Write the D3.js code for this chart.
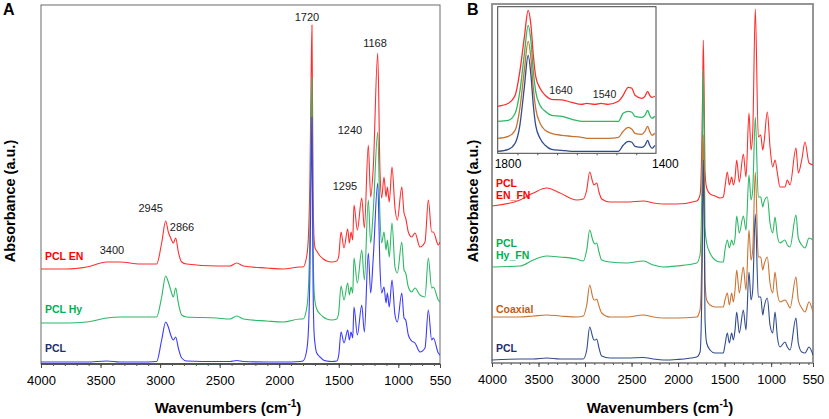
<!DOCTYPE html>
<html>
<head>
<meta charset="utf-8">
<script src="https://cdn.jsdelivr.net/npm/d3@7/dist/d3.min.js"></script>
<style>
body { margin: 0; background: #fff; }
svg { display: block; }
text { font-family: "Liberation Sans", Arial, sans-serif; }
</style>
</head>
<body>
<div id="chart"></div>
<script>
"use strict";
var w = 829;//page width
var h = 419;//page height

// ---- panel A : wavenumber grid (cm-1) and stacked absorbance of each trace
var wnA = [4000, 3784, 3616, 3448, 3337, 3169, 3029, 2987, 2953, 2931, 2911, 2889, 2869, 2847, 2819, 2777, 2525, 2413, 2357, 2301, 2105, 1966, 1825,
    1800, 1770, 1755, 1742, 1733, 1725, 1716, 1708, 1699, 1685, 1657, 1630, 1601, 1559, 1517, 1500,
    1481, 1456, 1425, 1411, 1397, 1383, 1372, 1344, 1307, 1285, 1252, 1232, 1210, 1173, 1154, 1140, 1120, 1103, 1092, 1076,
    1053, 1028, 1008, 971, 952, 938, 916, 888, 860, 818, 776, 748, 720, 706, 664, 650];
var pclEnA = [0.95, 0.95, 0.97, 1.02, 1.02, 1.00, 1.00, 1.21, 1.43, 1.32, 1.26, 1.21, 1.26, 1.12, 1.02, 1.00, 0.98, 0.98, 1.01, 0.98, 0.96, 0.95, 0.97,
    0.97, 1.07, 1.27, 1.87, 2.77, 3.39, 1.77, 1.27, 1.16, 1.13, 1.08, 1.05, 1.03, 1.02, 1.03, 1.08,
    1.32, 1.16, 1.35, 1.21, 1.32, 1.24, 1.59, 1.34, 1.66, 1.36, 2.19, 1.67, 1.97, 3.11, 1.94, 1.66, 1.87, 1.67, 1.77, 1.62,
    1.97, 1.56, 1.44, 1.77, 1.51, 1.46, 1.32, 1.27, 1.31, 1.17, 1.22, 1.64, 1.32, 1.32, 1.19, 1.22];
var pclHyA = [0.41, 0.41, 0.42, 0.46, 0.47, 0.47, 0.47, 0.67, 0.88, 0.82, 0.74, 0.67, 0.76, 0.61, 0.49, 0.47, 0.46, 0.45, 0.48, 0.45, 0.43, 0.42, 0.45,
    0.45, 0.55, 0.75, 1.35, 2.25, 2.86, 1.25, 0.75, 0.62, 0.55, 0.50, 0.47, 0.45, 0.44, 0.45, 0.52,
    0.78, 0.64, 0.81, 0.69, 0.77, 0.71, 1.06, 0.81, 1.14, 0.84, 1.64, 1.21, 1.54, 2.32, 1.47, 1.21, 1.32, 1.14, 1.24, 1.07,
    1.41, 0.97, 0.91, 1.22, 0.94, 0.91, 0.77, 0.72, 0.76, 0.69, 0.67, 1.06, 0.76, 0.77, 0.64, 0.62];
var pclA = [0.02, 0.02, 0.02, 0.03, 0.02, 0.02, 0.025, 0.24, 0.42, 0.37, 0.29, 0.24, 0.27, 0.16, 0.06, 0.03, 0.025, 0.025, 0.035, 0.025, 0.02, 0.02, 0.025,
    0.03, 0.13, 0.33, 0.93, 1.83, 2.47, 0.83, 0.33, 0.20, 0.11, 0.07, 0.04, 0.03, 0.025, 0.03, 0.09,
    0.32, 0.21, 0.34, 0.24, 0.32, 0.26, 0.57, 0.29, 0.59, 0.32, 1.11, 0.71, 1.07, 1.81, 0.97, 0.71, 0.77, 0.61, 0.71, 0.57,
    0.84, 0.49, 0.42, 0.71, 0.46, 0.44, 0.29, 0.23, 0.21, 0.12, 0.16, 0.54, 0.24, 0.26, 0.11, 0.09];

// ---- panel B
var wnB = [4000, 3699, 3556, 3412, 3269, 3090, 3019, 2982, 2950, 2918, 2904, 2889, 2875, 2850, 2821, 2732, 2552, 2374, 2266, 2159, 2015,
    1800, 1764, 1746, 1736, 1729, 1718, 1711, 1693, 1657, 1603, 1550, 1514,
    1496, 1471, 1449, 1424, 1406, 1388, 1370, 1342, 1299, 1270, 1238, 1216, 1198, 1170, 1138, 1112, 1090, 1077, 1041, 1012,
    983, 958, 933, 905, 851, 826, 797, 733, 708, 671, 636, 593, 550];
var enFnB = [1.57, 1.63, 1.70, 1.75, 1.70, 1.63, 1.64, 1.73, 1.91, 1.81, 1.78, 1.79, 1.80, 1.71, 1.64, 1.61, 1.61, 1.62, 1.60, 1.59, 1.59,
    1.62, 1.68, 2.13, 2.73, 3.23, 2.53, 1.93, 1.75, 1.69, 1.67, 1.65, 1.66,
    1.76, 1.91, 1.78, 1.86, 1.78, 1.85, 2.03, 1.81, 2.09, 1.86, 2.50, 2.13, 2.30, 3.54, 2.26, 2.28, 2.13, 2.20, 2.51, 2.16,
    1.96, 2.03, 1.90, 1.76, 1.76, 1.83, 1.78, 2.15, 1.90, 2.03, 2.21, 2.00, 1.98];
var hyFnB = [0.96, 0.97, 1.03, 1.07, 1.06, 1.04, 1.02, 1.13, 1.33, 1.23, 1.20, 1.19, 1.20, 1.11, 1.03, 1.01, 1.00, 1.02, 0.98, 0.96, 0.97,
    1.00, 1.08, 1.63, 2.33, 2.93, 2.13, 1.36, 1.20, 1.10, 1.03, 1.01, 1.01,
    1.13, 1.23, 1.15, 1.23, 1.18, 1.25, 1.47, 1.30, 1.47, 1.33, 1.88, 1.63, 1.73, 2.46, 1.66, 1.66, 1.56, 1.61, 1.66, 1.40,
    1.30, 1.46, 1.27, 1.20, 1.23, 1.18, 1.16, 1.48, 1.25, 1.18, 1.15, 1.25, 1.23];
var coaxB = [0.46, 0.46, 0.47, 0.48, 0.47, 0.46, 0.47, 0.58, 0.78, 0.66, 0.63, 0.63, 0.64, 0.57, 0.50, 0.46, 0.46, 0.48, 0.46, 0.45, 0.45,
    0.46, 0.53, 1.03, 1.73, 2.28, 1.53, 0.83, 0.63, 0.58, 0.56, 0.56, 0.56,
    0.63, 0.70, 0.58, 0.70, 0.61, 0.73, 0.93, 0.70, 0.96, 0.73, 1.33, 1.03, 1.13, 1.91, 1.06, 1.06, 0.93, 0.98, 1.06, 0.80,
    0.70, 0.91, 0.70, 0.61, 0.63, 0.60, 0.55, 0.86, 0.63, 0.55, 0.51, 0.61, 0.51];
var pclB = [0.03, 0.04, 0.04, 0.05, 0.04, 0.04, 0.04, 0.13, 0.36, 0.26, 0.23, 0.23, 0.24, 0.15, 0.07, 0.05, 0.05, 0.055, 0.04, 0.03, 0.035,
    0.06, 0.11, 0.63, 1.43, 2.03, 1.33, 0.45, 0.20, 0.13, 0.10, 0.10, 0.10,
    0.18, 0.30, 0.20, 0.30, 0.23, 0.33, 0.51, 0.30, 0.53, 0.33, 0.91, 0.63, 0.73, 1.49, 0.66, 0.66, 0.48, 0.55, 0.65, 0.38,
    0.30, 0.51, 0.26, 0.16, 0.21, 0.16, 0.13, 0.45, 0.20, 0.11, 0.10, 0.16, 0.08];

// ---- inset of panel B, 1800-1400 cm-1
var wnInset = [1800, 1773, 1756, 1744, 1733, 1723, 1716, 1710, 1704, 1693, 1680, 1664, 1638, 1613, 1588,
    1575, 1554, 1539, 1521, 1495, 1483, 1470, 1461, 1453, 1436, 1428, 1421, 1416, 1410, 1403];
var enFnInset = [0.47, 0.50, 0.58, 0.82, 1.15, 1.43, 1.28, 0.98, 0.77, 0.65, 0.58, 0.54, 0.535, 0.51, 0.49,
    0.50, 0.49, 0.50, 0.49, 0.52, 0.58, 0.66, 0.65, 0.58, 0.55, 0.57, 0.62, 0.58, 0.56, 0.57];
var hyFnInset = [0.32, 0.33, 0.40, 0.62, 0.98, 1.28, 1.12, 0.82, 0.62, 0.48, 0.42, 0.38, 0.37, 0.34, 0.32,
    0.32, 0.32, 0.32, 0.32, 0.32, 0.40, 0.42, 0.41, 0.37, 0.36, 0.38, 0.43, 0.38, 0.35, 0.37];
var coaxInset = [0.15, 0.17, 0.23, 0.45, 0.82, 1.12, 0.95, 0.65, 0.45, 0.30, 0.23, 0.20, 0.18, 0.17, 0.16,
    0.15, 0.15, 0.15, 0.15, 0.16, 0.22, 0.26, 0.24, 0.20, 0.19, 0.22, 0.27, 0.22, 0.18, 0.20];
var pclInset = [0.02, 0.04, 0.10, 0.28, 0.65, 0.98, 0.78, 0.48, 0.28, 0.15, 0.08, 0.04, 0.03, 0.02, 0.02,
    0.02, 0.02, 0.02, 0.02, 0.02, 0.08, 0.12, 0.11, 0.07, 0.06, 0.08, 0.13, 0.08, 0.05, 0.08];

// ---- axis ticks and labels
var ticksA = [4000, 3500, 3000, 2500, 2000, 1500, 1000, 650];
var ticksB = [4000, 3500, 3000, 2500, 2000, 1500, 1000, 550];
var tickLabels = ["4000", "3500", "3000", "2500", "2000", "1500", "1000", "550"];
var insetLabels = ["1800", "1400"];
var peakLabelsA = ["1720", "1168", "1240", "1295", "2945", "2866", "3400"];
var peakLabelsInset = ["1640", "1540"];

//it will register functions that will respond to browser events
function init() {
    draw();
};
window.onload = init;

function pairs(wn, vals) {
    return wn.map(function(d, i){ return [d, vals[i]]; });
}

function clip(svg, id, x, y) {
    svg.append("defs").append("clipPath").attr("id", id)
        .append("rect")
        .attr("x", x.range()[0]).attr("y", y.range()[1])
        .attr("width", x.range()[1] - x.range()[0])
        .attr("height", y.range()[0] - y.range()[1]);
}

function traces(g, x, y, wn, list, colors, clipId, width) {
    var line = d3.line()
        .defined(function(d){ return d[1] != null; })
        .curve(d3.curveMonotoneX)// smooth the bands a little, no overshoot
        .x(function(d){ return x(d[0]); })
        .y(function(d){ return y(d[1]); });
    g.append("g").attr("clip-path", "url(#" + clipId + ")")
        .selectAll("path")
        .data(list)
        .enter()
        .append("path")
        .attr("d", function(d){ return line(pairs(wn, d)); })
        .attr("fill", "none")
        .attr("stroke", function(d, i){ return colors[i]; })
        .attr("stroke-width", width)
        .attr("stroke-linejoin", "round");
}

function bottomAxis(g, x, y, ticks, labels, minor) {
    var y0 = y.range()[0];
    var mi = g.append("g").attr("transform", "translate(0," + y0 + ")")
        .call(d3.axisBottom(x).tickValues(minor).tickSize(2).tickFormat(""));
    mi.select(".domain").remove();
    mi.selectAll("line").attr("stroke", "#555");
    var ax = g.append("g").attr("transform", "translate(0," + y0 + ")")
        .call(d3.axisBottom(x).tickValues(ticks).tickSize(4).tickPadding(8)
            .tickFormat(function(d, i){ return labels[i]; }));
    ax.select(".domain").remove();
    ax.selectAll("line").attr("stroke", "#444");
    ax.attr("font-family", "Liberation Sans, Arial, sans-serif").attr("font-size", 13);
    ax.selectAll("text").attr("fill", "#000");
}

function xTitle(g, cx) {
    var t = g.append("text")
        .attr("x", cx).attr("y", 413)
        .attr("text-anchor", "middle")
        .attr("font-weight", "bold").attr("font-size", 15)
        .text("Wavenumbers (cm");
    t.append("tspan").attr("font-size", 10).attr("dy", -6).text("-1");
    t.append("tspan").attr("dy", 6).text(")");
}

function yTitle(g, bx) {
    g.append("text")
        .attr("transform", "translate(" + bx + ",201) rotate(-90)")
        .attr("text-anchor", "middle")
        .attr("font-weight", "bold").attr("font-size", 14.5)
        .text("Absorbance (a.u.)");
}

function seriesLabel(g, x, y, wn, val, lines, color) {
    g.append("text")
        .attr("x", x(wn) + 4).attr("y", y(val))
        .attr("font-weight", "bold").attr("font-size", 10.5)
        .attr("fill", color)
        .selectAll("tspan")
        .data(lines)
        .enter()
        .append("tspan")
        .attr("x", x(wn) + 4)
        .attr("dy", function(d, i){ return i == 0 ? 0 : 11.5; })
        .text(function(d){ return d; });
}

function peakLabels(g, x, y, labels, anchors, size) {
    g.selectAll(null)
        .data(labels)
        .enter()
        .append("text")
        .attr("x", function(d, i){ return x(anchors[i][0]); })
        .attr("y", function(d, i){ return y(anchors[i][1]); })
        .attr("text-anchor", "middle")
        .attr("font-family", "Open Sans, sans-serif")
        .attr("font-size", size)
        .attr("fill", "#1a1a1a")
        .text(function(d){ return d; });
}

function draw() {
    var svg = d3.select("#chart")
        .append("svg")
        .attr("width", w)
        .attr("height", h);

    // ================= panel A
    var xA = d3.scaleLinear().domain([4000, 650]).range([41, 440]);
    var yA = d3.scaleLinear().domain([0, 3.59]).range([364, 5]);
    clip(svg, "clipA", xA, yA);
    var gA = svg.append("g");

    gA.append("rect")
        .attr("x", 41).attr("y", 5).attr("width", 399).attr("height", 359)
        .attr("fill", "none").attr("stroke", "#6a6a6a").attr("stroke-width", 1);
    traces(gA, xA, yA, wnA, [pclEnA, pclHyA, pclA], ["#ff2e2e", "#2cb865", "#3a3aff"], "clipA", 1.1);
    gA.append("line").attr("x1", 41).attr("x2", 440).attr("y1", 364).attr("y2", 364)
        .attr("stroke", "#333").attr("stroke-width", 1.3);
    bottomAxis(gA, xA, yA, ticksA, tickLabels, d3.range(4000, 649, -100));

    peakLabels(gA, xA, yA, peakLabelsA,
        [[1767, 3.43], [1196, 3.17], [1406, 2.30], [1448, 1.74], [3079, 1.52], [2816, 1.33], [3404, 1.10]], 11);

    seriesLabel(gA, xA, yA, 4000, 1.04, ["PCL EN"], "#ff0000");
    seriesLabel(gA, xA, yA, 4000, 0.51, ["PCL Hy"], "#00b050");
    seriesLabel(gA, xA, yA, 4000, 0.12, ["PCL"], "#1f2f6b");

    xTitle(gA, 228);
    yTitle(gA, 15);
    gA.append("text").attr("x", 3).attr("y", 15)
        .attr("font-weight", "bold").attr("font-size", 16).text("A");

    // ================= panel B
    var xB = d3.scaleLinear().domain([4000, 550]).range([492, 813]);
    var yB = d3.scaleLinear().domain([0, 3.59]).range([363, 4]);
    clip(svg, "clipB", xB, yB);
    var gB = svg.append("g");

    gB.append("rect")
        .attr("x", 492).attr("y", 4).attr("width", 321).attr("height", 359)
        .attr("fill", "none").attr("stroke", "#8a8a8a").attr("stroke-width", 1.8);
    traces(gB, xB, yB, wnB, [enFnB, hyFnB, coaxB, pclB], ["#ff2e2e", "#2cb865", "#c97432", "#2f4c8c"], "clipB", 1.1);
    bottomAxis(gB, xB, yB, ticksB, tickLabels, d3.range(4000, 549, -100));

    seriesLabel(gB, xB, yB, 4000, 1.76, ["PCL", "EN_FN"], "#ff0000");
    seriesLabel(gB, xB, yB, 4000, 1.16, ["PCL", "Hy_FN"], "#00b050");
    seriesLabel(gB, xB, yB, 4000, 0.50, ["Coaxial"], "#c55a11");
    seriesLabel(gB, xB, yB, 4000, 0.11, ["PCL"], "#1f2f6b");

    xTitle(gB, 660);
    yTitle(gB, 478);
    gB.append("text").attr("x", 467).attr("y", 15)
        .attr("font-weight", "bold").attr("font-size", 16).text("B");

    // ---- inset
    var xI = d3.scaleLinear().domain([1800, 1400]).range([497.7, 656]);
    var yI = d3.scaleLinear().domain([0, 1.466]).range([153.3, 6.7]);
    clip(svg, "clipI", xI, yI);
    var gI = svg.append("g");
    gI.append("rect")
        .attr("x", 497.7).attr("y", 6.7).attr("width", 158.3).attr("height", 146.6)
        .attr("fill", "#fff").attr("stroke", "#444").attr("stroke-width", 1);
    traces(gI, xI, yI, wnInset, [enFnInset, hyFnInset, coaxInset, pclInset],
        ["#ff2e2e", "#2cb865", "#c97432", "#2f4c8c"], "clipI", 1.3);
    var it = gI.append("g").attr("transform", "translate(0,153.3)")
        .call(d3.axisBottom(xI).tickValues(d3.range(1750, 1449, -50)).tickSize(2).tickFormat(""));
    it.select(".domain").remove();
    it.selectAll("line").attr("stroke", "#555");
    gI.selectAll(null)
        .data(insetLabels)
        .enter()
        .append("text")
        .attr("x", function(d, i){ return i == 0 ? xI(1800) - 3 : xI(1400) - 4; })
        .attr("y", 168)
        .attr("font-size", 12)
        .text(function(d){ return d; });
    peakLabels(gI, xI, yI, peakLabelsInset, [[1640, 0.595], [1530, 0.55]], 10.5);
};
</script>
</body>
</html>
